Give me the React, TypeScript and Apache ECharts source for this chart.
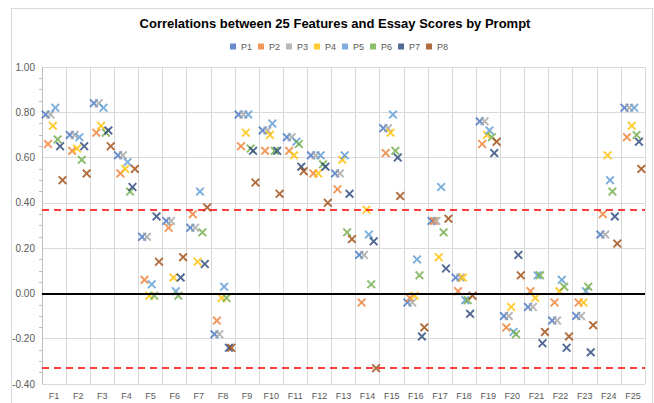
import React, { useEffect, useRef } from "react";
import * as echarts from "echarts";

const features = Array.from({ length: 25 }, (_, i) => "F" + (i + 1));
const prompts = ["P1", "P2", "P3", "P4", "P5", "P6", "P7", "P8"];
const colors = ["#4472C4", "#ED7D31", "#A5A5A5", "#FFC000", "#5B9BD5", "#70AD47", "#264478", "#9E480E"];

const p1 = [0.79, 0.70, 0.84, 0.61, 0.25, 0.32, 0.29, -0.18, 0.79, 0.72, 0.69, 0.61, 0.53, 0.17, 0.73, -0.04, 0.32, 0.07, 0.76, -0.10, -0.06, -0.12, -0.10, 0.26, 0.82];
const p2 = [0.66, 0.63, 0.71, 0.53, 0.06, 0.29, 0.35, -0.12, 0.65, 0.63, 0.63, 0.53, 0.46, -0.04, 0.62, -0.02, 0.32, 0.01, 0.66, -0.15, 0.01, -0.04, -0.04, 0.35, 0.69];
const p3 = [0.79, 0.70, 0.84, 0.61, 0.25, 0.32, 0.29, -0.18, 0.79, 0.72, 0.69, 0.61, 0.53, 0.17, 0.73, -0.04, 0.32, 0.07, 0.76, -0.10, -0.06, -0.12, -0.10, 0.26, 0.82];
const p4 = [0.74, 0.64, 0.74, 0.55, -0.01, 0.07, 0.14, -0.02, 0.71, 0.70, 0.61, 0.53, 0.59, 0.37, 0.71, -0.01, 0.16, 0.07, 0.70, -0.06, -0.02, 0.01, -0.04, 0.61, 0.74];
const p5 = [0.82, 0.69, 0.82, 0.58, 0.04, 0.01, 0.45, 0.03, 0.79, 0.75, 0.67, 0.61, 0.61, 0.26, 0.79, 0.15, 0.47, -0.03, 0.72, -0.17, 0.08, 0.06, 0.01, 0.50, 0.82];
const p6 = [0.68, 0.59, 0.71, 0.45, -0.01, -0.01, 0.27, -0.02, 0.64, 0.63, 0.66, 0.57, 0.27, 0.04, 0.63, 0.08, 0.27, -0.03, 0.69, -0.18, 0.08, 0.03, 0.03, 0.45, 0.70];
const p7 = [0.65, 0.65, 0.72, 0.47, 0.34, 0.07, 0.13, -0.24, 0.63, 0.63, 0.56, 0.56, 0.44, 0.23, 0.60, -0.19, 0.11, -0.09, 0.62, 0.17, -0.22, -0.24, -0.26, 0.34, 0.67];
const p8 = [0.50, 0.53, 0.65, 0.55, 0.14, 0.16, 0.38, -0.24, 0.49, 0.44, 0.54, 0.40, 0.24, -0.33, 0.43, -0.15, 0.33, -0.01, 0.67, 0.08, -0.17, -0.19, -0.14, 0.22, 0.55];
const seriesValues = [p1, p2, p3, p4, p5, p6, p7, p8];

const upperThreshold = 0.367;
const lowerThreshold = -0.325;

const X_SYMBOL =
  "path://M0,1.5L1.5,0L5,3.5L8.5,0L10,1.5L6.5,5L10,8.5L8.5,10L5,6.5L1.5,10L0,8.5L3.5,5Z";

const FONT = "'Liberation Sans', Arial, sans-serif";

export default function App() {
  const ref = useRef<HTMLDivElement>(null);
  useEffect(() => {
    const chart = echarts.init(ref.current!, null, { renderer: "svg" });
    const series: any[] = prompts.map((name, i) => ({
      name,
      type: "scatter",
      xAxisIndex: 1,
      yAxisIndex: 0,
      symbol: X_SYMBOL,
      symbolSize: 9,
      itemStyle: { color: colors[i] },
      data: seriesValues[i].map((v, f) => [f + 1 + (i - 3.5) * 0.1, v]),
      z: 3,
    }));
    series.push({
      name: "lines",
      type: "scatter",
      xAxisIndex: 1,
      data: [],
      silent: true,
      markLine: {
        silent: true,
        symbol: "none",
        label: { show: false },
        data: [
          { yAxis: upperThreshold, lineStyle: { color: "#FF0000", type: [7, 5], width: 1.5 } },
          { yAxis: lowerThreshold, lineStyle: { color: "#FF0000", type: [7, 5], width: 1.5 } },
          { yAxis: 0, lineStyle: { color: "#000000", type: "solid", width: 2 } },
        ],
      },
      z: 2,
    });
    chart.setOption({
      animation: false,
      title: {
        text: "Correlations between 25 Features and Essay Scores by Prompt",
        left: 330,
        textAlign: "center",
        top: 12,
        textStyle: { fontFamily: FONT, fontSize: 13, fontWeight: "bold", color: "#000" },
      },
      legend: {
        data: prompts,
        top: 37,
        left: 225,
        icon: "rect",
        itemWidth: 6,
        itemHeight: 6,
        itemGap: 6,
        textStyle: { fontFamily: FONT, fontSize: 9, color: "#595959" },
      },
      grid: { left: 42, right: 9, top: 67, bottom: 19, containLabel: false },
      xAxis: [
        {
          type: "category",
          data: features,
          boundaryGap: true,
          axisLine: { lineStyle: { color: "#BFBFBF" } },
          axisTick: { show: false },
          splitLine: { show: true, lineStyle: { color: "#D9D9D9" } },
          axisLabel: { fontFamily: FONT, fontSize: 9, color: "#595959", margin: 7 },
        },
        {
          type: "value",
          min: 0.5,
          max: 25.5,
          show: false,
        },
      ],
      yAxis: {
        type: "value",
        min: -0.4,
        max: 1.0,
        interval: 0.2,
        axisLine: { show: true, lineStyle: { color: "#BFBFBF" } },
        axisTick: { show: false },
        minorTick: { show: true, splitNumber: 4, length: 3, lineStyle: { color: "#BFBFBF" } },
        splitLine: { show: true, lineStyle: { color: "#D9D9D9" } },
        axisLabel: {
          fontFamily: FONT,
          fontSize: 10,
          color: "#595959",
          margin: 7,
          formatter: (v: number) => v.toFixed(2),
        },
      },
      series,
    });
    return () => chart.dispose();
  }, []);
  return (
    <div style={{ position: "absolute", left: 0, top: 0, width: 654, height: 403, background: "#fff", overflow: "hidden" }}>
      <div
        style={{
          position: "absolute",
          left: 11,
          top: 8,
          width: 640,
          height: 420,
          border: "1px solid #D9D9D9",
        }}
      />
      <div ref={ref} style={{ position: "absolute", left: 0, top: 0, width: 654, height: 403 }} />
    </div>
  );
}
